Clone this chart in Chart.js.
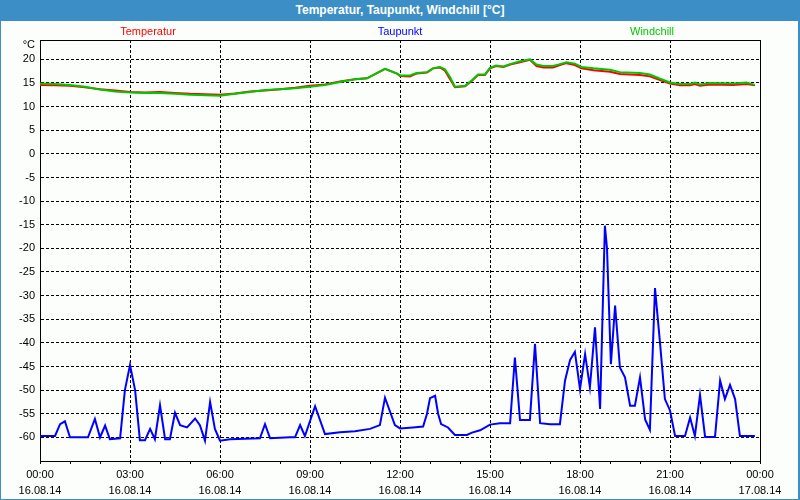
<!DOCTYPE html>
<html>
<head>
    <title>Temperatur, Taupunkt, Windchill</title>
    <style>
        body { margin: 0; font-family: "Liberation Sans", Arial, sans-serif; }
        .frame { width: 800px; height: 500px; background: #3c8fc6; position: relative; }
        .titlebar { height: 21px; line-height: 21px; color: white; font-weight: bold; font-size: 12px; text-align: center; }
        .inner { position: absolute; left: 1px; top: 21px; width: 797px; height: 478px; background: #fcfefc; }
        canvas { display: block; }
    </style>
</head>
<body>
    <div class="frame">
        <div class="titlebar">Temperatur, Taupunkt, Windchill [°C]</div>
        <div class="inner">
            <canvas id="chart" width="797" height="478"></canvas>
        </div>
    </div>

    <script src="https://cdn.jsdelivr.net/npm/chart.js"></script>
    <script>
        // hours since 16.08.14 00:00
        const tempHours = [0, 0.5, 1.0, 1.5, 2.0, 2.5, 3.0, 3.5, 4.0, 4.5, 5.0, 5.5, 6.0, 6.5, 7.0, 7.5, 8.0, 8.5, 9.0, 9.5, 10.0, 10.5, 10.9, 11.2, 11.5, 11.9, 12.0, 12.33, 12.55, 12.9, 13.1, 13.33, 13.5, 13.67, 13.83, 14.17, 14.4, 14.6, 14.83, 15.0, 15.2, 15.45, 15.67, 16.0, 16.33, 16.55, 16.78, 17.1, 17.33, 17.55, 17.83, 18.05, 18.45, 19.0, 19.33, 20.0, 20.33, 20.67, 21.0, 21.33, 21.67, 21.83, 22.0, 22.33, 23.1, 23.55, 23.83];
        const temperatur = [14.6, 14.5, 14.4, 14.1, 13.7, 13.4, 13.1, 13.0, 13.1, 12.9, 12.7, 12.6, 12.5, 12.8, 13.2, 13.4, 13.7, 14.0, 14.4, 14.7, 15.3, 15.8, 16.0, 17.0, 18.0, 17.0, 16.5, 16.4, 17.0, 17.2, 18.1, 18.3, 17.6, 15.8, 14.1, 14.3, 15.5, 16.7, 16.7, 18.1, 18.6, 18.4, 18.9, 19.4, 19.9, 18.6, 18.3, 18.3, 18.8, 19.2, 18.8, 18.1, 17.7, 17.4, 16.9, 16.7, 16.4, 15.6, 14.9, 14.5, 14.5, 14.8, 14.4, 14.7, 14.6, 14.8, 14.5];
        const windchill = [14.9, 14.8, 14.6, 14.2, 13.6, 13.2, 13.0, 12.9, 12.9, 12.7, 12.5, 12.4, 12.3, 12.7, 13.1, 13.5, 13.7, 13.9, 14.2, 14.6, 15.2, 15.8, 16.0, 17.0, 18.0, 17.0, 16.6, 16.6, 17.1, 17.3, 18.1, 18.4, 17.9, 16.2, 14.2, 14.4, 15.6, 16.8, 16.8, 18.2, 18.7, 18.5, 19.0, 19.6, 20.0, 18.9, 18.6, 18.6, 19.0, 19.4, 19.1, 18.4, 18.1, 17.8, 17.3, 17.1, 16.8, 15.9, 15.1, 14.8, 14.8, 15.1, 14.7, 15.0, 14.9, 15.1, 14.6];

        const dewHours = [0, 0.5, 0.67, 0.83, 1.0, 1.6, 1.83, 2.0, 2.17, 2.33, 2.67, 2.83, 3.0, 3.17, 3.33, 3.5, 3.67, 3.83, 4.0, 4.17, 4.33, 4.5, 4.67, 4.9, 5.17, 5.33, 5.5, 5.67, 5.83, 6.0, 6.33, 7.33, 7.5, 7.67, 8.33, 8.5, 8.67, 8.83, 9.17, 9.5, 10.0, 10.5, 11.0, 11.33, 11.5, 11.83, 12.0, 12.43, 12.77, 12.9, 13.0, 13.17, 13.27, 13.37, 13.6, 13.83, 14.23, 14.4, 14.67, 15.0, 15.33, 15.67, 15.83, 16.0, 16.33, 16.5, 16.67, 17.0, 17.33, 17.5, 17.67, 17.83, 18.0, 18.17, 18.33, 18.5, 18.67, 18.83, 18.9, 19.03, 19.17, 19.33, 19.5, 19.67, 19.83, 20.0, 20.17, 20.33, 20.5, 20.67, 20.83, 21.0, 21.17, 21.5, 21.67, 21.83, 22.0, 22.17, 22.5, 22.67, 22.83, 23.0, 23.17, 23.33, 23.83];
        const taupunkt = [-59.7, -59.7, -57.2, -56.6, -60.0, -60.0, -56.1, -60.0, -57.5, -60.4, -60.2, -50.0, -44.7, -50.0, -60.6, -60.6, -58.2, -60.4, -53.2, -60.4, -60.4, -54.8, -57.4, -57.9, -56.0, -57.4, -60.7, -52.5, -58.2, -60.7, -60.4, -60.2, -57.2, -60.2, -60.0, -60.0, -57.4, -59.7, -53.4, -59.3, -58.9, -58.7, -58.2, -57.4, -51.6, -57.4, -58.1, -57.9, -57.7, -55.0, -51.7, -51.2, -55.0, -57.2, -57.9, -59.5, -59.5, -59.0, -58.5, -57.3, -57.0, -57.0, -43.1, -56.3, -56.3, -40.2, -57.0, -57.2, -57.2, -48.0, -43.6, -41.9, -49.8, -42.4, -49.4, -36.7, -54.0, -15.2, -20.0, -44.5, -32.1, -45.2, -47.3, -53.3, -53.3, -47.3, -56.2, -58.4, -28.4, -40.2, -51.9, -54.3, -59.7, -59.7, -55.8, -59.7, -51.0, -59.9, -59.9, -48.0, -51.9, -48.9, -51.9, -59.7, -59.7];

        const yTicks = [-60, -55, -50, -45, -40, -35, -30, -25, -20, -15, -10, -5, 0, 5, 10, 15, 20];
        const xTimeLabels = ['00:00', '03:00', '06:00', '09:00', '12:00', '15:00', '18:00', '21:00', '00:00'];
        const xDateLabels = ['16.08.14', '16.08.14', '16.08.14', '16.08.14', '16.08.14', '16.08.14', '16.08.14', '16.08.14', '17.08.14'];

        const toPoints = (xs, ys) => xs.map((x, i) => ({ x: x, y: ys[i] }));
        const font = { family: '"Liberation Sans", Arial, sans-serif', size: 11 };

        // series names centred above the plot, plus the unit and the closing frame
        const decorations = {
            id: 'decorations',
            afterDraw(chart) {
                const ctx = chart.ctx;
                const a = chart.chartArea;
                ctx.save();
                ctx.font = '11px ' + font.family;
                ctx.textAlign = 'center';
                ctx.textBaseline = 'middle';
                chart.data.datasets.forEach((ds, i) => {
                    ctx.fillStyle = ds.borderColor;
                    ctx.fillText(ds.label, a.left + (a.right - a.left) * (0.15 + 0.35 * i), 11);
                });
                ctx.fillStyle = '#000';
                ctx.textAlign = 'right';
                ctx.fillText('°C', a.left - 5, 24);
                ctx.strokeStyle = '#000';
                ctx.lineWidth = 1;
                ctx.beginPath();
                ctx.moveTo(a.left, Math.round(a.top) + 0.5);
                ctx.lineTo(Math.round(a.right) + 0.5, Math.round(a.top) + 0.5);
                ctx.lineTo(Math.round(a.right) + 0.5, a.bottom);
                ctx.stroke();
                ctx.restore();
            }
        };

        new Chart(document.getElementById('chart'), {
            type: 'line',
            data: {
                datasets: [
                    { label: 'Temperatur', data: toPoints(tempHours, temperatur), borderColor: '#ff0000', order: 2 },
                    { label: 'Taupunkt', data: toPoints(dewHours, taupunkt), borderColor: '#0000ff', order: 1 },
                    { label: 'Windchill', data: toPoints(tempHours, windchill), borderColor: '#00c800', order: 0 }
                ]
            },
            options: {
                responsive: false,
                animation: false,
                layout: { padding: { top: 19, right: 38, left: 0, bottom: 0 } },
                elements: {
                    point: { radius: 0 },
                    line: { borderWidth: 2, tension: 0 }
                },
                plugins: { legend: { display: false }, tooltip: { enabled: false } },
                scales: {
                    x: {
                        type: 'linear',
                        min: 0,
                        max: 24,
                        afterFit: s => { s.height = 38; },
                        ticks: {
                            stepSize: 1,
                            autoSkip: false,
                            maxRotation: 0,
                            padding: 3,
                            color: '#000',
                            font: { family: font.family, size: 11, lineHeight: 1.45 },
                            callback: v => v % 3 === 0 ? [xTimeLabels[v / 3], xDateLabels[v / 3]] : ''
                        },
                        grid: {
                            color: c => (c.tick && c.tick.value % 3 === 0) ? '#000' : 'rgba(0,0,0,0)',
                            tickColor: '#000',
                            tickLength: 3,
                            tickBorderDash: []
                        },
                        border: { color: '#000', width: 1, dash: [3, 2] }
                    },
                    y: {
                        min: -65,
                        max: 24.1,
                        afterFit: s => { s.width = 39; },
                        afterBuildTicks: s => { s.ticks = yTicks.map(v => ({ value: v })); },
                        ticks: { autoSkip: false, padding: 5, color: '#000', font: font },
                        grid: { color: '#000', drawTicks: false },
                        border: { color: '#000', width: 1, dash: [3, 2] }
                    }
                }
            },
            plugins: [decorations]
        });
    </script>
</body>
</html>
